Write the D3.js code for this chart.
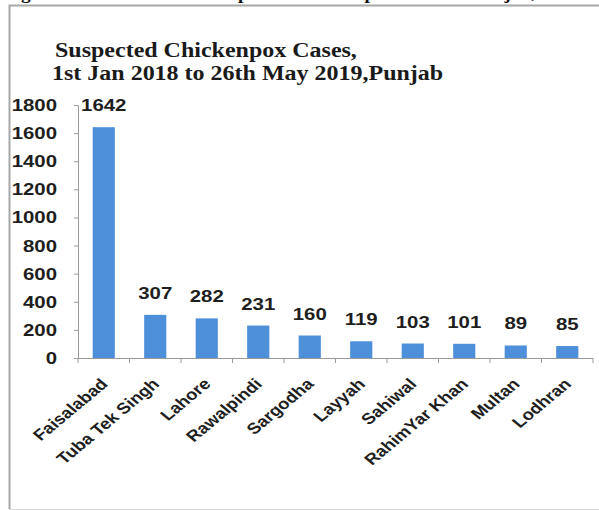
<!DOCTYPE html>
<html>
<head>
<meta charset="utf-8">
<script src="https://cdn.jsdelivr.net/npm/d3@7"></script>
<style>
  body { margin: 0; background: #fff; }
</style>
</head>
<body>
<div id="chart"></div>
<script>
// data
var districts = ["Faisalabad", "Tuba Tek Singh", "Lahore", "Rawalpindi", "Sargodha",
                 "Layyah", "Sahiwal", "RahimYar Khan", "Multan", "Lodhran"];
var cases = [1642, 307, 282, 231, 160, 119, 103, 101, 89, 85];
var yTicks = [0, 200, 400, 600, 800, 1000, 1200, 1400, 1600, 1800];
var titleLines = ["Suspected Chickenpox Cases,", "1st  Jan 2018 to 26th May 2019,Punjab"];

var W = 599, H = 510;
var sx = 1.2; // the source picture is stretched sideways, so is the text
var svg = d3.select("#chart").append("svg").attr("width", W).attr("height", H);

// cut-off caption from the page above the figure
svg.append("text").attr("transform", "translate(4,-1) scale(" + sx + ",1)")
  .style("font-family", "'Liberation Serif', serif").style("font-weight", "bold")
  .style("font-size", "16px").style("fill", "#111")
  .text("Figure 2: Distribution of Suspected Chickenpox Cases in Punjab,");

// frame
svg.append("path").attr("d", "M9.5,509 L9.5,5.5 L599,5.5")
  .attr("fill", "none").attr("stroke", "#a8a8a8").attr("stroke-width", 2);
svg.append("line").attr("x1", 9).attr("x2", 599).attr("y1", 509.5).attr("y2", 509.5)
  .attr("stroke", "#d8d8d8");

// title
svg.selectAll(".title").data(titleLines).enter().append("text")
  .attr("class", "title")
  .attr("transform", (d, i) => "translate(" + (i == 0 ? 55 : 52) + "," + (57 + i * 23) + ") scale(" + sx + ",1)")
  .style("font-family", "'Liberation Serif', 'Times New Roman', serif")
  .style("font-weight", "bold").style("font-size", "20px").style("fill", "#1a1a1a")
  .text(d => d);

// scales
var x = d3.scaleBand().domain(districts).range([78, 593]).paddingInner(0.57).paddingOuter(0.285);
var xb = d3.scaleBand().domain(districts).range([78, 593]);
var y = d3.scaleLinear().domain([0, 1800]).range([358, 105]);

// y axis
var yAxis = svg.append("g").attr("transform", "translate(78,0)")
  .call(d3.axisLeft(y).tickValues(yTicks).tickFormat(d3.format("d")).tickSize(4).tickPadding(17));
yAxis.select(".domain").attr("stroke", "#9a9a9a");
yAxis.selectAll(".tick line").attr("stroke", "#9a9a9a");
yAxis.selectAll("text")
  .attr("x", -21 / sx)
  .attr("transform", "scale(" + sx + ",1)")
  .style("font-family", "'Liberation Sans', Arial, sans-serif")
  .style("font-weight", "bold").style("font-size", "17px").style("fill", "#1e1e1e");

// bars
svg.selectAll(".bar").data(cases).enter().append("rect")
  .attr("class", "bar")
  .attr("x", (d, i) => x(districts[i]))
  .attr("width", x.bandwidth())
  .attr("y", d => y(d))
  .attr("height", d => y(0) - y(d))
  .style("fill", "#4d8fd8");

// value labels
svg.selectAll(".val").data(cases).enter().append("text")
  .attr("class", "val")
  .attr("transform", (d, i) => "translate(" + (xb(districts[i]) + xb.bandwidth() / 2) + "," + (y(d) - 16) + ") scale(" + sx + ",1)")
  .attr("text-anchor", "middle")
  .style("font-family", "'Liberation Sans', Arial, sans-serif")
  .style("font-weight", "bold").style("font-size", "17px").style("fill", "#1e1e1e")
  .text(d => d);

// x axis with ticks between categories
var xg = svg.append("g");
xg.append("line").attr("x1", 78).attr("x2", 593).attr("y1", 358.5).attr("y2", 358.5)
  .attr("stroke", "#9a9a9a");
xg.selectAll(".xt").data(districts.concat([null])).enter().append("line")
  .attr("class", "xt")
  .attr("x1", (d, i) => d ? xb(d) : xb.range()[1])
  .attr("x2", (d, i) => d ? xb(d) : xb.range()[1])
  .attr("y1", 358).attr("y2", 363)
  .attr("stroke", "#9a9a9a");

// rotated category labels
svg.selectAll(".cat").data(districts).enter().append("text")
  .attr("class", "cat")
  .attr("transform", d => "translate(" + (xb(d) + xb.bandwidth() / 2 + 5) + ",385) scale(" + sx + ",1) rotate(-45)")
  .attr("text-anchor", "end")
  .style("font-family", "'Liberation Sans', Arial, sans-serif")
  .style("font-weight", "bold").style("font-size", "15.5px").style("fill", "#1e1e1e")
  .text(d => d);
</script>
</body>
</html>
